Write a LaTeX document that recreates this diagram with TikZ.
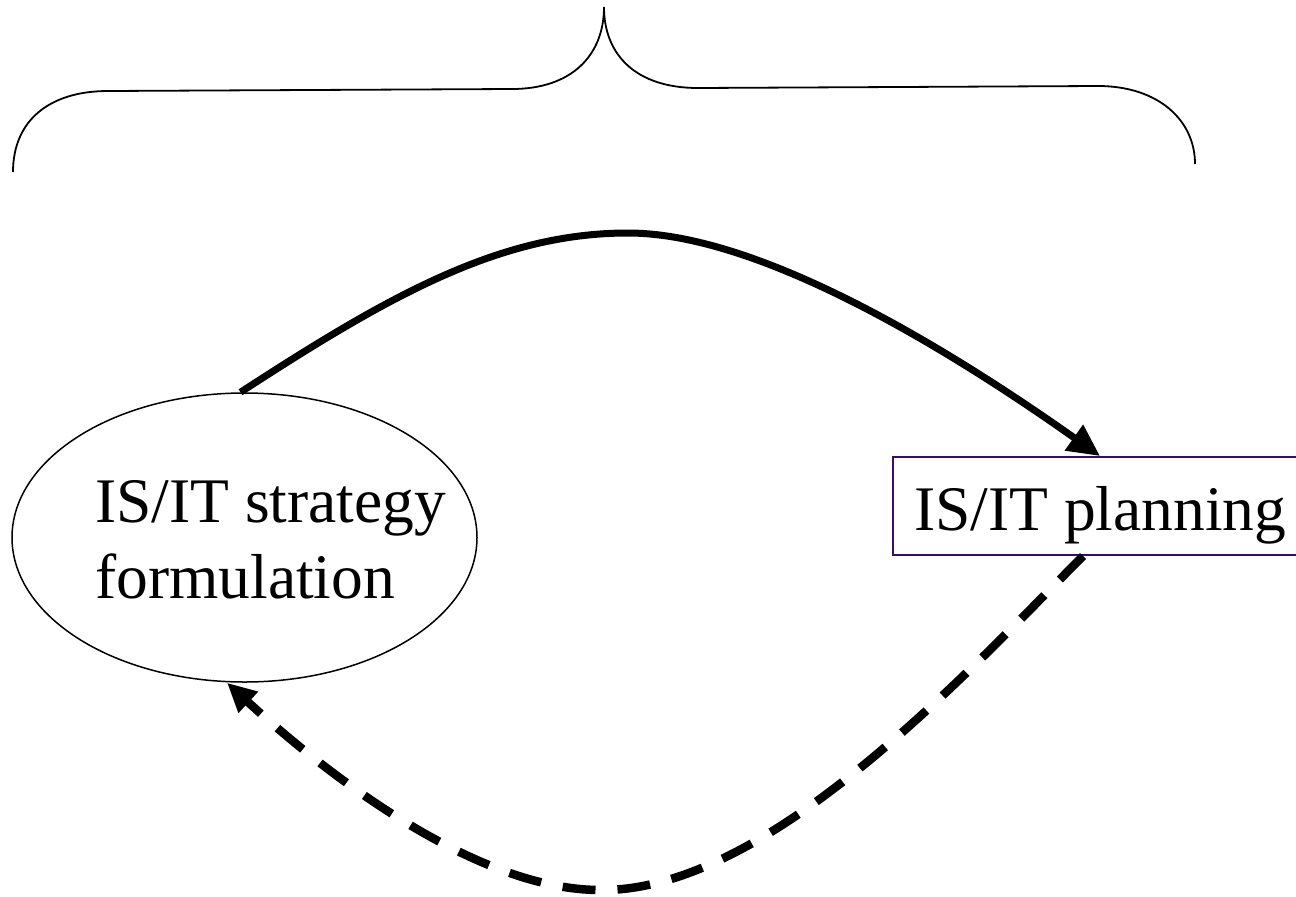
\documentclass[tikz,border=0pt]{standalone}
\usepackage{fontspec}
\setmainfont{Liberation Serif}
\usetikzlibrary{shapes.geometric,arrows.meta}
\definecolor{planpurple}{HTML}{3C0A6E}
\tikzset{
  bigtext/.style={font=\fontsize{63.5}{76}\selectfont, inner sep=0pt, anchor=base west},
  thinline/.style={line width=1.5pt, draw=black},
  solidarrow/.style={line width=7pt, -{Triangle[length=32pt,width=30pt]}},
  dasharrow/.style={line width=8.5pt, dash pattern=on 33pt off 22pt, -{Triangle[length=29pt,width=27pt]}},
}
\begin{document}
\begin{tikzpicture}[x=1pt,y=-1pt]
\useasboundingbox (0,0) rectangle (1296,897);
% brace
\draw[line width=1.8pt] (13,172) .. controls (13,120) and (50,91) .. (108,91) -- (512,89)
  .. controls (572,89) and (604,55) .. (604,7)
  .. controls (604,55) and (636,88) .. (698,88) -- (1098,86)
  .. controls (1158,86) and (1195,120) .. (1195,164);
% ellipse node
\node[ellipse, thinline, minimum width=465pt, minimum height=289pt, inner sep=0pt] (strat) at (244.5,537.5) {};
\node[bigtext] (strat1) at (95,522) {IS/IT strategy};
\node[bigtext] (strat2) at (95,598) {formulation};
% rectangle node
\node[rectangle, draw=planpurple, line width=2pt, minimum width=405pt, minimum height=98pt, inner sep=0pt] (plan) at (1095.5,506) {};
\node[bigtext] (plantext) at (914,530) {IS/IT planning};
% solid arrow
\draw[solidarrow] ([xshift=-4pt]strat.north) .. controls (390,295) and (500,233) .. (628,233)
  .. controls (760,233) and (950,350) .. ([xshift=4.5pt]plan.north);
% dashed arrow
\draw[dasharrow] ([xshift=-12.5pt]plan.south) .. controls (960,680) and (765,892) .. (600,890)
  .. controls (480,890) and (335,782) .. ([xshift=-17.5pt]strat.south);
\end{tikzpicture}
\end{document}
